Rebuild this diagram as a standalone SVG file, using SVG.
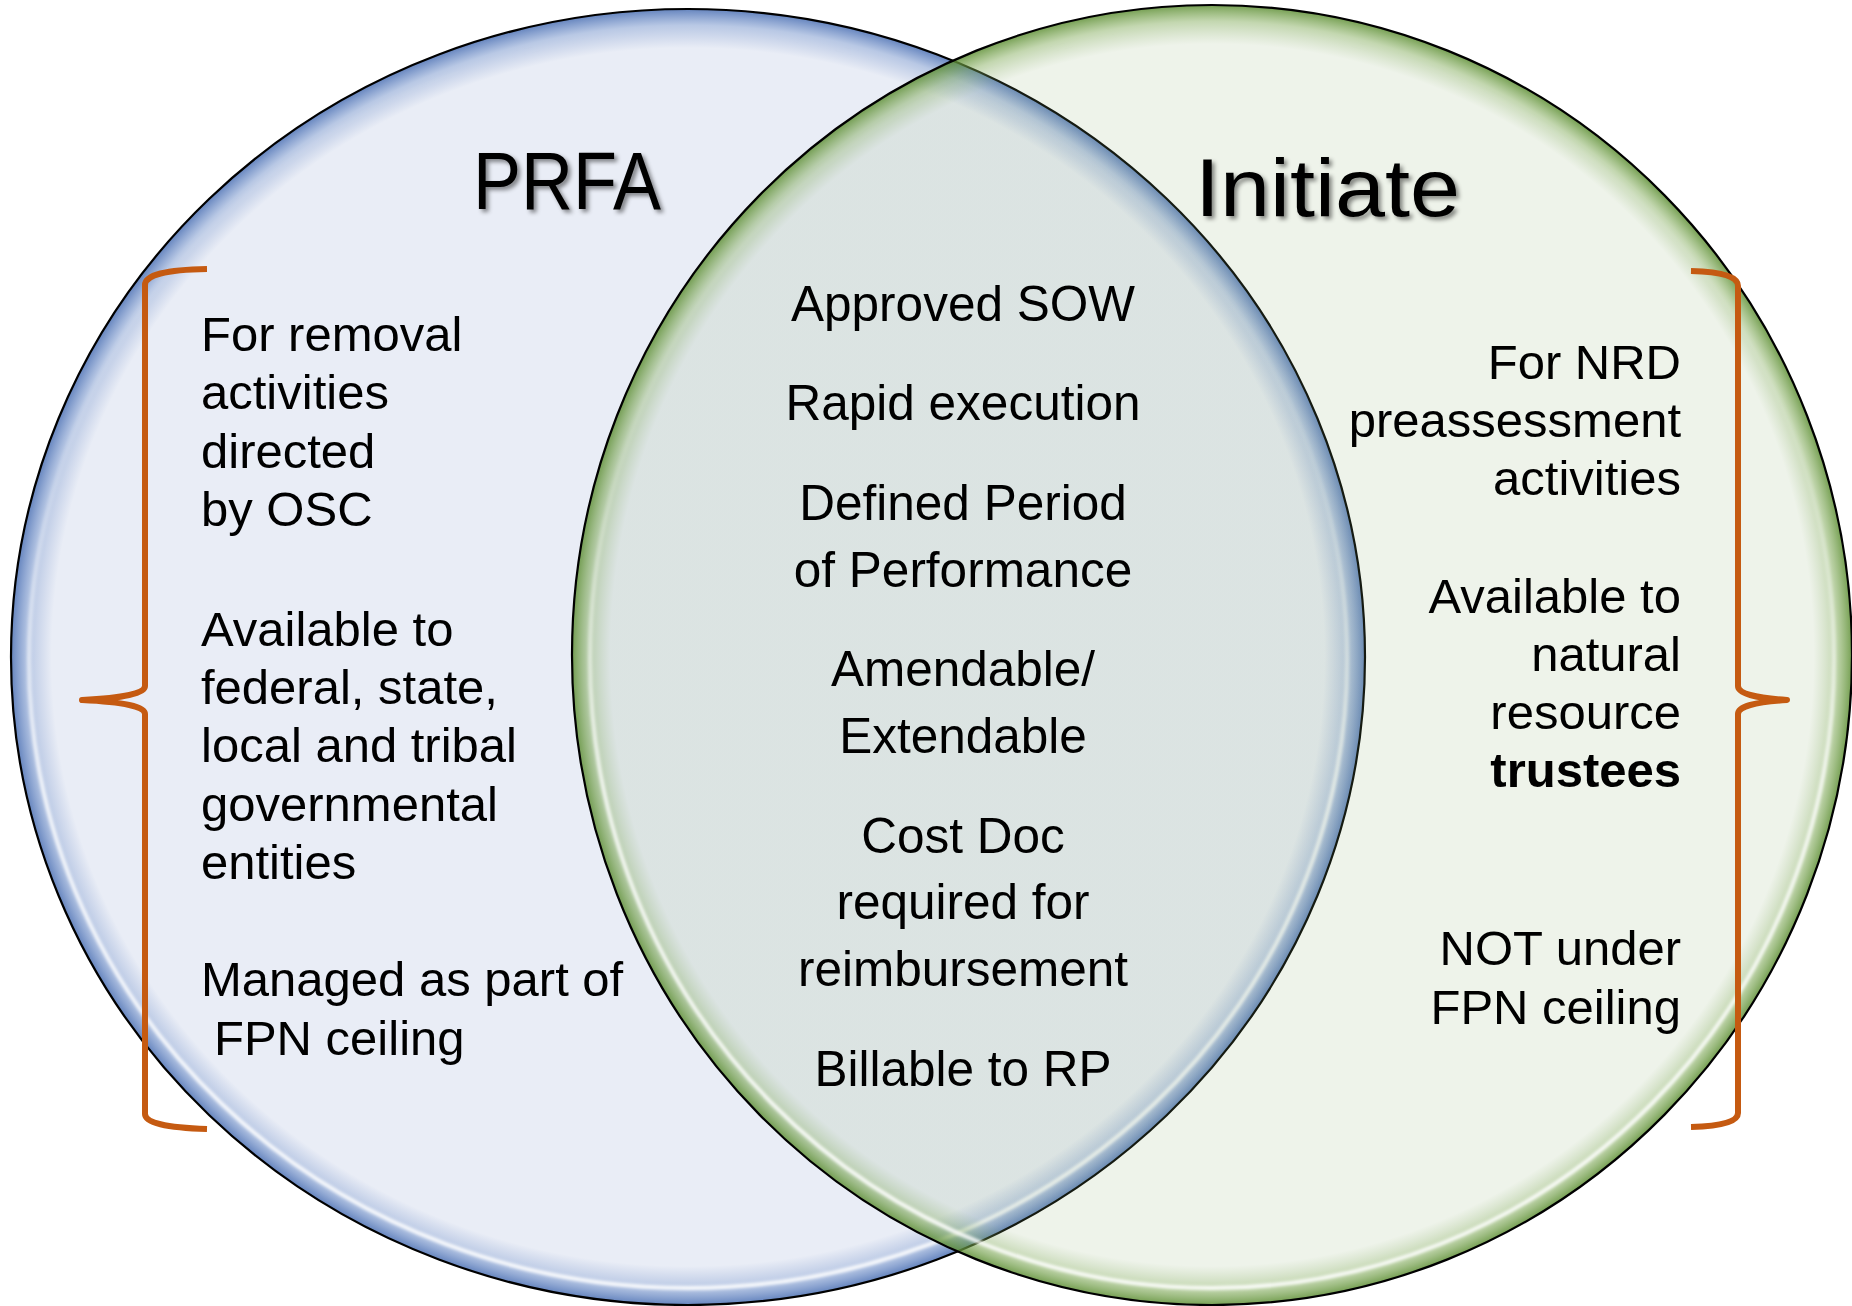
<svg xmlns="http://www.w3.org/2000/svg" width="1852" height="1306" viewBox="0 0 1852 1306">
  <style>
    .body { font-family: "Liberation Sans", Arial, sans-serif; font-size: 49px; fill: #000; }
    .mid { font-family: "Liberation Sans", Arial, sans-serif; font-size: 49.5px; fill: #000; text-anchor: middle; }
    .right { text-anchor: end; }
    .title { font-family: "Liberation Sans", Arial, sans-serif; font-size: 82px; fill: #000; filter: url(#shadow); }
    .outline { fill: none; stroke: #000; stroke-width: 2.2; }
    .shine { fill: none; stroke: url(#shineGrad); stroke-width: 4; filter: url(#soft); }
    .brace { fill: none; stroke: #C55A11; stroke-width: 6; stroke-linejoin: round; }
  </style>
  <defs>
    <radialGradient id="blueFill" cx="0.5" cy="0.5" r="0.5">
      <stop offset="0" stop-color="#4869B4" stop-opacity="0.12"/>
      <stop offset="0.94" stop-color="#4869B4" stop-opacity="0.12"/>
      <stop offset="0.975" stop-color="#4F76BD" stop-opacity="0.4"/>
      <stop offset="1" stop-color="#3F66AE" stop-opacity="0.8"/>
    </radialGradient>
    <radialGradient id="greenFill" cx="0.5" cy="0.5" r="0.5">
      <stop offset="0" stop-color="#8EAF73" stop-opacity="0.15"/>
      <stop offset="0.94" stop-color="#8EAF73" stop-opacity="0.15"/>
      <stop offset="0.975" stop-color="#7AA64F" stop-opacity="0.45"/>
      <stop offset="1" stop-color="#5E8F35" stop-opacity="0.85"/>
    </radialGradient>
    <linearGradient id="shineGrad" x1="0" y1="0" x2="0" y2="1">
      <stop offset="0" stop-color="#FFFFFF" stop-opacity="0"/>
      <stop offset="0.35" stop-color="#FFFFFF" stop-opacity="0.15"/>
      <stop offset="0.6" stop-color="#FFFFFF" stop-opacity="0.8"/>
      <stop offset="1" stop-color="#FFFFFF" stop-opacity="0.9"/>
    </linearGradient>
    <filter id="soft" x="-5%" y="-5%" width="110%" height="110%">
      <feGaussianBlur stdDeviation="1.5"/>
    </filter>
    <filter id="shadow" x="-20%" y="-20%" width="140%" height="150%">
      <feDropShadow dx="3" dy="3" stdDeviation="2" flood-color="#000" flood-opacity="0.45"/>
    </filter>
  </defs>

  <rect width="1852" height="1306" fill="#FFFFFF"/>

  <g id="prfa-circle">
    <ellipse cx="688" cy="657" rx="677" ry="648" fill="url(#blueFill)"/>
    <ellipse cx="688" cy="660" rx="659" ry="628" class="shine"/>
    <ellipse cx="688" cy="657" rx="677" ry="648" class="outline"/>
  </g>

  <g id="initiate-circle">
    <ellipse cx="1212" cy="655" rx="640" ry="650" fill="url(#greenFill)"/>
    <ellipse cx="1212" cy="658" rx="622" ry="630" class="shine"/>
    <ellipse cx="1212" cy="655" rx="640" ry="650" class="outline"/>
  </g>

  <g id="prfa-title">
    <text class="title" x="473" y="209" textLength="188" lengthAdjust="spacingAndGlyphs">PRFA</text>
  </g>
  <g id="initiate-title">
    <text class="title" x="1195" y="216" textLength="265" lengthAdjust="spacingAndGlyphs">Initiate</text>
  </g>

  <g id="prfa-items" class="body">
    <text x="201" y="351">For removal</text>
    <text x="201" y="409">activities</text>
    <text x="201" y="468">directed</text>
    <text x="201" y="526">by OSC</text>
    <text x="201" y="646">Available to</text>
    <text x="201" y="704">federal, state,</text>
    <text x="201" y="762">local and tribal</text>
    <text x="201" y="821">governmental</text>
    <text x="201" y="879">entities</text>
    <text x="201" y="996">Managed as part of</text>
    <text x="214" y="1055">FPN ceiling</text>
  </g>

  <g id="shared-items" class="mid">
    <text x="963" y="321">Approved SOW</text>
    <text x="963" y="420">Rapid execution</text>
    <text x="963" y="520">Defined Period</text>
    <text x="963" y="587">of Performance</text>
    <text x="963" y="686">Amendable/</text>
    <text x="963" y="753">Extendable</text>
    <text x="963" y="853">Cost Doc</text>
    <text x="963" y="919">required for</text>
    <text x="963" y="986">reimbursement</text>
    <text x="963" y="1086">Billable to RP</text>
  </g>

  <g id="initiate-items" class="body right">
    <text x="1681" y="379">For NRD</text>
    <text x="1681" y="437">preassessment</text>
    <text x="1681" y="495">activities</text>
    <text x="1681" y="613">Available to</text>
    <text x="1681" y="671">natural</text>
    <text x="1681" y="729">resource</text>
    <text x="1681" y="787" font-weight="bold">trustees</text>
    <text x="1681" y="965">NOT under</text>
    <text x="1681" y="1024">FPN ceiling</text>
  </g>

  <g id="brackets">
    <path class="brace" d="M207,269 Q145,270 145,285 L145,686 Q145,697 82,700 Q145,703 145,714 L145,1114 Q145,1127 207,1129"/>
    <path class="brace" d="M1691,271 Q1738,272 1738,286 L1738,686 Q1738,697 1787,700 Q1738,703 1738,714 L1738,1113 Q1738,1126 1691,1127"/>
  </g>
</svg>
